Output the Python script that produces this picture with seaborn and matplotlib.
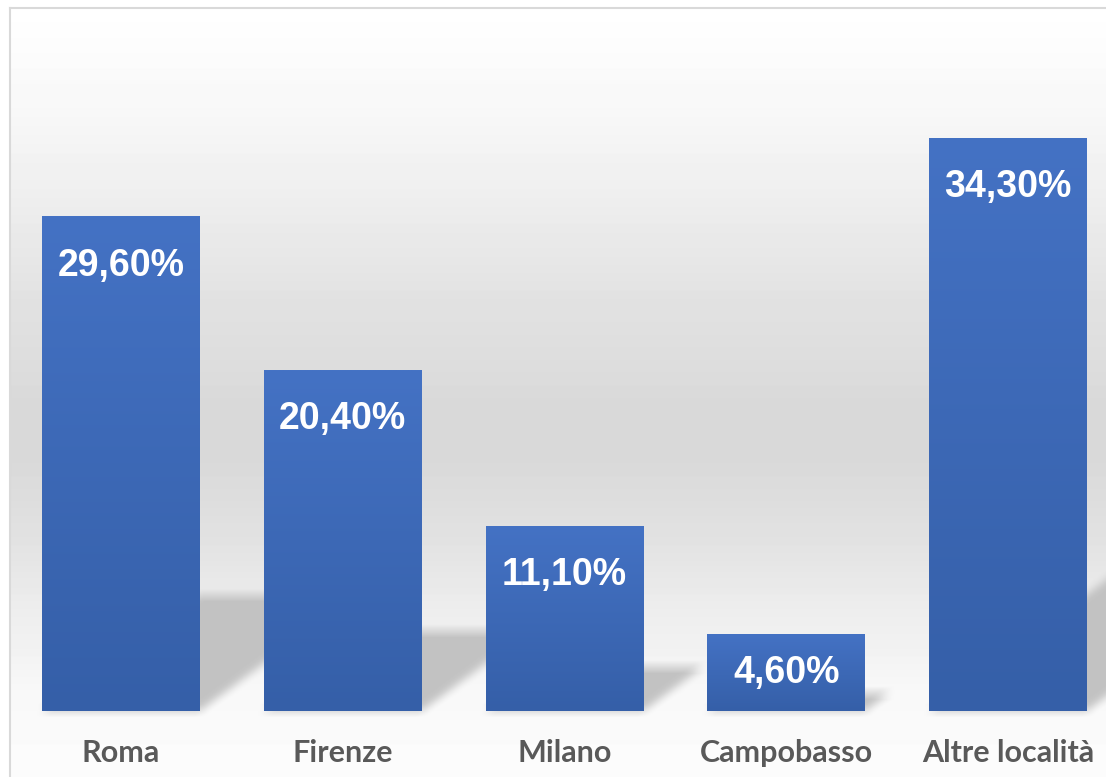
import numpy as np
import matplotlib
matplotlib.use('Agg')
import matplotlib.pyplot as plt
import seaborn as sns
from matplotlib.colors import to_rgb

# dati
categories = ["Roma", "Firenze", "Milano", "Campobasso", "Altre località"]
values = [29.6, 20.4, 11.1, 4.6, 34.3]

sns.set_theme(style='white')
plt.rcParams['font.family'] = ['Liberation Sans', 'DejaVu Sans']

fig = plt.figure(figsize=(11.06, 7.77), dpi=100)
# l'area del grafico esce a destra e in basso come nello screenshot
ax = fig.add_axes([10 / 1106, 0, 1109 / 1106, 769 / 777])

sns.barplot(x=categories, y=values, color='#4472c4', saturation=1,
            width=0.712, ax=ax, zorder=3, linewidth=0, edgecolor='none')

xlim = (-0.5, 4.5)
ylim = (-3.95, 42.08)
ax.set_xlim(*xlim)
ax.set_ylim(*ylim)
ax.set_xticks([])
ax.set_yticks([])
ax.set_xlabel('')
ax.set_ylabel('')
ax.set_facecolor('none')
for s in ['right', 'bottom']:
    ax.spines[s].set_visible(False)
for s in ['left', 'top']:
    ax.spines[s].set_color('#d9d9d9')
    ax.spines[s].set_linewidth(1.5)

# sfondo sfumato + ombre in prospettiva
nrows, ncols = 769, 1109
rows_px = 8 + np.arange(nrows) + 0.5
stops_px = [8, 100, 200, 300, 400, 450, 500, 560, 600, 650, 690, 711, 777]
stops_v = [255, 249, 238, 226, 218, 217, 221, 229, 236, 242, 248, 250, 252]
gray = np.interp(rows_px, stops_px, stops_v) / 255
bg = np.repeat(gray[:, None], ncols, axis=1)

X = xlim[0] + (np.arange(ncols) + 0.5) * (xlim[1] - xlim[0]) / ncols
Y = ylim[1] - (np.arange(nrows) + 0.5) * (ylim[1] - ylim[0]) / nrows
XX, YY = np.meshgrid(X, Y)
px_x = ncols / (xlim[1] - xlim[0])
px_y = nrows / (ylim[1] - ylim[0])
k = 1.35 * px_y / px_x

mask = np.zeros_like(bg)
for p, v in zip(ax.patches, values):
    xl, xr = p.get_x(), p.get_x() + p.get_width()
    sh = 0.235 * v
    m = (YY >= 0) & (YY <= sh) & (XX >= xl + k * YY) & (XX <= xr + k * YY)
    mask[m] = 1.0

kern = np.ones(13) / 13
mask = np.apply_along_axis(lambda r: np.convolve(r, kern, mode='same'), 1, mask)
mask = np.apply_along_axis(lambda c: np.convolve(c, kern, mode='same'), 0, mask)
img = bg - (bg - 195 / 255) * mask
ax.imshow(img, cmap='gray', vmin=0, vmax=1, aspect='auto', zorder=0,
          extent=(xlim[0], xlim[1], ylim[0], ylim[1]), interpolation='bilinear')

# gradiente sulle barre
c_top = np.array(to_rgb('#4472c4'))
c_bot = np.array(to_rgb('#355fa8'))
t = np.linspace(0, 1, 256)[:, None, None]
grad = c_top * (1 - t) + c_bot * t
for p in ax.patches:
    x, w, h = p.get_x(), p.get_width(), p.get_height()
    im = ax.imshow(grad, aspect='auto', zorder=4,
                   extent=(x, x + w, 0, h))
    im.set_clip_path(p)

ax.set_xlim(*xlim)
ax.set_ylim(*ylim)

# etichette dei valori (dentro la barra, al centro se la barra e' bassa)
for i, v in enumerate(values):
    lab = f"{v:.2f}".replace('.', ',') + '%'
    yc = v - min(2.75, v / 2 - 0.15)
    ax.annotate(lab, xy=(i, yc), xytext=(0, -9.6), textcoords='offset points',
                ha='center', va='baseline', color='white', fontsize=27,
                fontweight='bold', zorder=6)

# categorie
for i, c in enumerate(categories):
    ax.text(i, -3.05, c, ha='center', va='baseline', color='#595959',
            fontsize=22, fontweight='bold', family=['Lato', 'DejaVu Sans'],
            zorder=6)

fig.savefig('out.png', dpi=100, facecolor='white')
